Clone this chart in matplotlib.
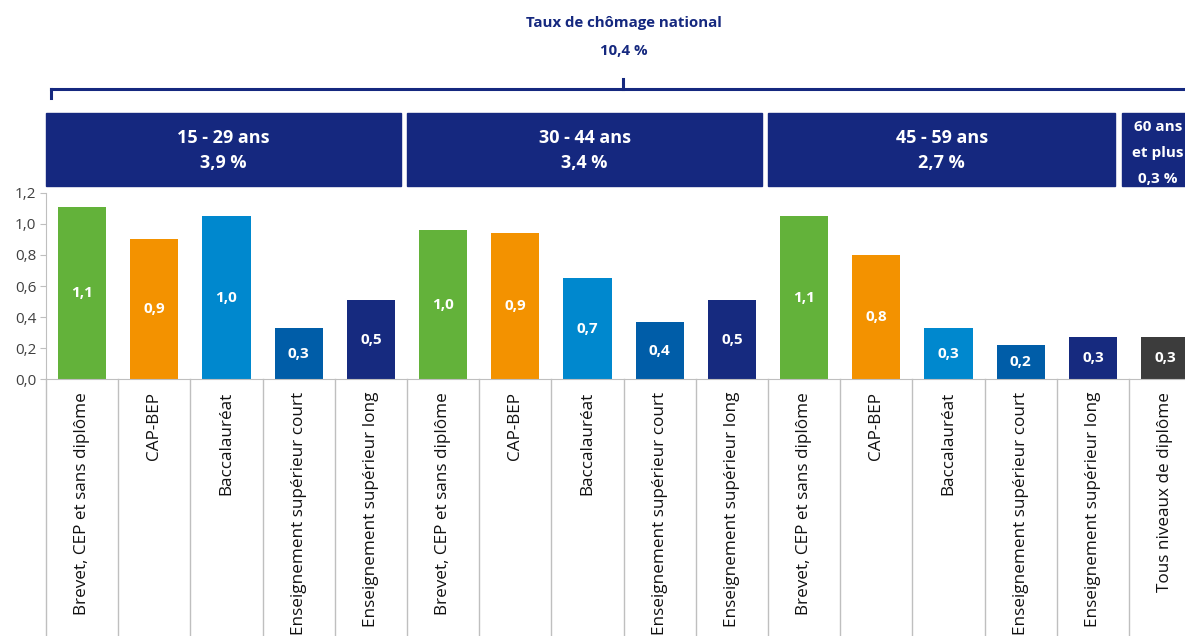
import matplotlib.pyplot as plt
from matplotlib.patches import Rectangle
from matplotlib.transforms import blended_transform_factory

# Données
niveaux = ["Brevet, CEP et sans diplôme", "CAP-BEP", "Baccalauréat",
           "Enseignement supérieur court", "Enseignement supérieur long"]
categories = niveaux * 3 + ["Tous niveaux de diplôme"]
valeurs = [1.11, 0.90, 1.05, 0.33, 0.51,
           0.96, 0.94, 0.65, 0.37, 0.51,
           1.05, 0.80, 0.33, 0.22, 0.27,
           0.27]
etiquettes = ["1,1", "0,9", "1,0", "0,3", "0,5",
              "1,0", "0,9", "0,7", "0,4", "0,5",
              "1,1", "0,8", "0,3", "0,2", "0,3",
              "0,3"]
groupes = ["15 - 29 ans\n3,9 %", "30 - 44 ans\n3,4 %", "45 - 59 ans\n2,7 %",
           "60 ans\net plus\n0,3 %"]
taille_groupes = [5, 5, 5, 1]
titre = "Taux de chômage national\n10,4 %"
yticks = [0.0, 0.2, 0.4, 0.6, 0.8, 1.0, 1.2]

couleurs_niveau = ["#63B23A", "#F39200", "#0088CE", "#005DA8", "#162A7F"]
couleurs = couleurs_niveau * 3 + ["#3C3C3C"]
navy = "#15287F"

plt.rcParams['font.family'] = ['Open Sans', 'DejaVu Sans']

W, H = 1185, 636
fig = plt.figure(figsize=(W / 100, H / 100), dpi=100)
slot = 72.2
ax = fig.add_axes([46 / W, (H - 379.3) / H, 16 * slot / W, (379.3 - 192.7) / H])

x = list(range(len(valeurs)))
ax.bar(x, valeurs, width=0.667, color=couleurs)
for xi, v, lab in zip(x, valeurs, etiquettes):
    ax.text(xi, v / 2, lab, ha='center', va='center', color='white',
            fontsize=11, fontweight='bold')

ax.set_xlim(-0.5, 15.5)
ax.set_ylim(0, 1.2)
ax.set_yticks(yticks)
ax.set_yticklabels([f"{t:.1f}".replace(".", ",") for t in yticks])
ax.tick_params(axis='y', length=4, color='#BFBFBF', labelsize=11,
               labelcolor='#404040', pad=3)
ax.set_xticks(x)
ax.set_xticklabels(categories, rotation=90, va='top', fontsize=12.3,
                   color='#111111')
ax.tick_params(axis='x', length=0, pad=9)
for s in ['top', 'right']:
    ax.spines[s].set_visible(False)
ax.spines['left'].set_color('#BFBFBF')
ax.spines['bottom'].set_color('#BFBFBF')

# séparateurs verticaux sous l'axe
tr_x = ax.get_xaxis_transform()
for k in range(len(valeurs) + 1):
    ax.plot([k - 0.5, k - 0.5], [0, -1.5], transform=tr_x, color='#BFBFBF',
            lw=1, clip_on=False)

# bandeaux des tranches d'âge
tr_b = blended_transform_factory(ax.transData, fig.transFigure)
y0, y1 = (H - 186) / H, (H - 113) / H
debut = -0.5
for i, (g, n) in enumerate(zip(groupes, taille_groupes)):
    if n == 1:
        x0 = debut - 0.1
        taille, interligne, xc = 11, 2.1, (1158 - 46) / slot - 0.5
        yc = (H - 153) / H
        x1 = debut + n
    else:
        x0 = debut
        taille, interligne = 13, 1.48
        x1 = debut + n - (0.19 if i == 2 else 0.08)
        xc = (x0 + x1) / 2
        yc = (H - 150.5) / H
    ax.add_patch(Rectangle((x0, y0), x1 - x0, y1 - y0, transform=tr_b,
                           color=navy, clip_on=False))
    ax.text(xc, yc, g, transform=tr_b, ha='center', va='center',
            color='white', fontsize=taille, fontweight='bold',
            linespacing=interligne)
    debut += n

# accolade et titre
lw_acc = 2.2
fig.lines.append(plt.Line2D([51 / W, 1.0], [(H - 89) / H] * 2,
                            transform=fig.transFigure, color=navy, lw=lw_acc))
fig.lines.append(plt.Line2D([51 / W, 51 / W], [(H - 89) / H, (H - 98) / H],
                            transform=fig.transFigure, color=navy, lw=lw_acc))
fig.lines.append(plt.Line2D([623 / W, 623 / W], [(H - 89) / H, (H - 79) / H],
                            transform=fig.transFigure, color=navy, lw=lw_acc))
fig.text(624 / W, (H - 37) / H, titre, ha='center', va='center', color=navy,
         fontsize=10.8, fontweight='bold', linespacing=2.2)

fig.savefig("out.png", dpi=100)
